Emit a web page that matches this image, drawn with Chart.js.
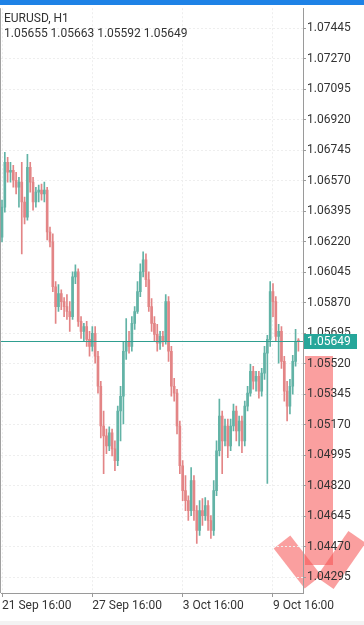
<!DOCTYPE html>
<html>
<head>
<meta charset="utf-8">
<script src="https://cdn.jsdelivr.net/npm/chart.js@4.4.0/dist/chart.umd.min.js"></script>
<style>
  html, body { margin: 0; padding: 0; background: #fff; }
  #wrap { position: relative; width: 364px; height: 625px; }
</style>
</head>
<body>
<div id="wrap"><canvas id="priceChart" width="364" height="625"></canvas></div>
<script>
// EURUSD H1 - 3h candles
const symbolTitle = 'EURUSD, H1';
const lastBarText = '1.05655 1.05663 1.05592 1.05649';

const xTickIndex = [0, 32, 64, 96];
const xTickLabels = ['21 Sep 16:00', '27 Sep 16:00', '3 Oct 16:00', '9 Oct 16:00'];

const yTickValues = [1.04295, 1.04470, 1.04645, 1.04820, 1.04995, 1.05170, 1.05345,
  1.05520, 1.05695, 1.05870, 1.06045, 1.06220, 1.06395, 1.06570, 1.06745, 1.06920,
  1.07095, 1.07270, 1.07445];

const opens = [1.06246, 1.06418, 1.06675, 1.06618, 1.06629, 1.06572, 1.06532, 1.06561, 1.06447, 1.06360,
  1.06646, 1.06561, 1.06447, 1.06504, 1.06515, 1.06493, 1.06515, 1.06275, 1.06218, 1.05961,
  1.05847, 1.05922, 1.05876, 1.05847, 1.05819, 1.05790, 1.06018, 1.06047, 1.05762, 1.05705,
  1.05733, 1.05659, 1.05619, 1.05694, 1.05562, 1.05390, 1.05162, 1.05105, 1.05048, 1.05123,
  1.05031, 1.04963, 1.05248, 1.05333, 1.05591, 1.05648, 1.05619, 1.05751, 1.05819, 1.05933,
  1.06047, 1.06115, 1.06001, 1.05847, 1.05751, 1.05688, 1.05637, 1.05676, 1.05648, 1.05876,
  1.05591, 1.05390, 1.05351, 1.05162, 1.04934, 1.04791, 1.04734, 1.04677, 1.04849, 1.04677,
  1.04563, 1.04677, 1.04648, 1.04705, 1.04620, 1.04563, 1.04791, 1.05020, 1.05219, 1.05077,
  1.05162, 1.05048, 1.05162, 1.05248, 1.05134, 1.05191, 1.05077, 1.05276, 1.05351, 1.05476,
  1.05419, 1.05447, 1.05362, 1.05465, 1.05580, 1.05659, 1.05933, 1.05876, 1.05676, 1.05705,
  1.05533, 1.05362, 1.05276, 1.05390, 1.05533, 1.05655];

const highs = [1.06458, 1.06732, 1.06703, 1.06675, 1.06658, 1.06618, 1.06589, 1.06675, 1.06475, 1.06721,
  1.06675, 1.06589, 1.06532, 1.06544, 1.06550, 1.06561, 1.06532, 1.06303, 1.06264, 1.05990,
  1.05973, 1.05944, 1.05899, 1.05916, 1.05876, 1.06047, 1.06087, 1.06064, 1.05790, 1.05751,
  1.05762, 1.05705, 1.05733, 1.05733, 1.05591, 1.05419, 1.05248, 1.05145, 1.05157, 1.05145,
  1.05077, 1.05276, 1.05390, 1.05648, 1.05779, 1.05705, 1.05790, 1.05847, 1.05990, 1.06093,
  1.06161, 1.06150, 1.06047, 1.05893, 1.05790, 1.05745, 1.05705, 1.05705, 1.05916, 1.05904,
  1.05619, 1.05436, 1.05373, 1.05191, 1.04963, 1.04877, 1.04762, 1.04923, 1.04877, 1.04705,
  1.04734, 1.04745, 1.04751, 1.04734, 1.04648, 1.04849, 1.05077, 1.05316, 1.05248, 1.05202,
  1.05202, 1.05202, 1.05288, 1.05276, 1.05219, 1.05219, 1.05305, 1.05390, 1.05516, 1.05505,
  1.05476, 1.05476, 1.05493, 1.05619, 1.05682, 1.05990, 1.05979, 1.05904, 1.05745, 1.05733,
  1.05562, 1.05419, 1.05430, 1.05568, 1.05716, 1.05663];

const lows = [1.06218, 1.06389, 1.06561, 1.06561, 1.06532, 1.06493, 1.06418, 1.06150, 1.06321, 1.06343,
  1.06504, 1.06401, 1.06418, 1.06447, 1.06458, 1.06447, 1.06229, 1.06189, 1.05933, 1.05751,
  1.05819, 1.05830, 1.05790, 1.05773, 1.05705, 1.05773, 1.05979, 1.05733, 1.05665, 1.05648,
  1.05619, 1.05562, 1.05591, 1.05522, 1.05351, 1.05094, 1.04889, 1.05003, 1.05020, 1.04991,
  1.04906, 1.04934, 1.05077, 1.05174, 1.05544, 1.05580, 1.05591, 1.05716, 1.05808, 1.05904,
  1.06018, 1.05961, 1.05819, 1.05705, 1.05648, 1.05591, 1.05602, 1.05619, 1.05631, 1.05533,
  1.05333, 1.05305, 1.05117, 1.04889, 1.04734, 1.04677, 1.04620, 1.04648, 1.04620, 1.04489,
  1.04534, 1.04591, 1.04620, 1.04563, 1.04517, 1.04534, 1.04762, 1.04991, 1.04889, 1.05048,
  1.04980, 1.05020, 1.05134, 1.05077, 1.05048, 1.05009, 1.05048, 1.05248, 1.05333, 1.05373,
  1.05362, 1.05322, 1.05333, 1.05430, 1.04832, 1.05619, 1.05790, 1.05648, 1.05522, 1.05493,
  1.05305, 1.05191, 1.05231, 1.05345, 1.05505, 1.05592];

const closes = [1.06418, 1.06675, 1.06618, 1.06629, 1.06572, 1.06532, 1.06561, 1.06447, 1.06360, 1.06646,
  1.06561, 1.06447, 1.06504, 1.06515, 1.06493, 1.06515, 1.06275, 1.06218, 1.05961, 1.05847,
  1.05922, 1.05876, 1.05847, 1.05819, 1.05790, 1.06018, 1.06047, 1.05762, 1.05705, 1.05733,
  1.05659, 1.05619, 1.05694, 1.05562, 1.05390, 1.05162, 1.05105, 1.05048, 1.05123, 1.05031,
  1.04963, 1.05248, 1.05333, 1.05591, 1.05648, 1.05619, 1.05751, 1.05819, 1.05933, 1.06047,
  1.06115, 1.06001, 1.05847, 1.05751, 1.05688, 1.05637, 1.05676, 1.05648, 1.05876, 1.05591,
  1.05390, 1.05351, 1.05162, 1.04934, 1.04791, 1.04734, 1.04677, 1.04849, 1.04677, 1.04563,
  1.04677, 1.04648, 1.04705, 1.04620, 1.04563, 1.04791, 1.05020, 1.05219, 1.05077, 1.05162,
  1.05048, 1.05162, 1.05248, 1.05134, 1.05191, 1.05077, 1.05276, 1.05351, 1.05476, 1.05419,
  1.05447, 1.05362, 1.05465, 1.05580, 1.05659, 1.05933, 1.05876, 1.05676, 1.05705, 1.05533,
  1.05362, 1.05276, 1.05390, 1.05533, 1.05648, 1.05649];

const bullColor = '#62b3a6';
const bearColor = '#e38586';
const candleColors = closes.map((c, i) => c >= opens[i] ? bullColor : bearColor);
const lastClose = closes[closes.length - 1];

const fontFamily = 'Roboto, "Noto Sans", sans-serif';

// background bits: top bar, left border, the big red arrow
const chromePlugin = {
  id: 'chrome',
  beforeDraw(chart) {
    const ctx = chart.ctx;
    const area = chart.chartArea;
    ctx.save();
    ctx.fillStyle = '#f3f3f3';
    ctx.fillRect(0, 621, chart.width, 4);

    ctx.strokeStyle = '#a0a0a0';
    ctx.lineWidth = 1;
    ctx.beginPath();
    ctx.moveTo(0.5, area.top);
    ctx.lineTo(0.5, area.bottom);
    ctx.stroke();

    // down arrow annotation
    const red = 'rgba(245, 80, 80, 0.55)';
    ctx.fillStyle = red;
    ctx.fillRect(area.right + 2, 356, 28, 209);
    ctx.strokeStyle = red;
    ctx.lineWidth = 21;
    ctx.lineCap = 'butt';
    ctx.beginPath();
    ctx.moveTo(area.right - 21, 542);
    ctx.lineTo(area.right + 10, 582);
    ctx.stroke();
    ctx.beginPath();
    ctx.moveTo(area.right + 54, 537);
    ctx.lineTo(area.right + 22, 583);
    ctx.stroke();

    ctx.fillStyle = '#1e82e6';
    ctx.fillRect(0, 0, chart.width, 5);
    ctx.restore();
  },
  afterDatasetsDraw(chart) {
    const ctx = chart.ctx;
    const area = chart.chartArea;
    const y = Math.round(chart.scales.y.getPixelForValue(lastClose)) + 0.5;
    ctx.save();
    ctx.strokeStyle = '#2f9e90';
    ctx.lineWidth = 1;
    ctx.beginPath();
    ctx.moveTo(area.left, y);
    ctx.lineTo(area.right, y);
    ctx.stroke();
    ctx.restore();
  },
  afterDraw(chart) {
    const ctx = chart.ctx;
    const area = chart.chartArea;
    const y = Math.round(chart.scales.y.getPixelForValue(lastClose));
    ctx.save();
    ctx.fillStyle = '#26a69a';
    ctx.fillRect(area.right + 1, y - 7, 53, 15);
    ctx.fillStyle = '#ffffff';
    ctx.font = '12px ' + fontFamily;
    ctx.textBaseline = 'middle';
    ctx.fillText(lastClose.toFixed(5), area.right + 4, y + 1);

    ctx.fillStyle = '#333333';
    ctx.textBaseline = 'alphabetic';
    ctx.fillText(symbolTitle, 4, 22);
    ctx.fillText(lastBarText, 4, 37);
    ctx.restore();
  }
};

const ctx = document.getElementById('priceChart').getContext('2d');
new Chart(ctx, {
  type: 'bar',
  data: {
    datasets: [
      {
        label: 'wick',
        data: lows.map((l, i) => ({ x: i, y: [l, highs[i]] })),
        backgroundColor: candleColors,
        barThickness: 1,
        borderWidth: 0,
        grouped: false,
        order: 2
      },
      {
        label: 'body',
        data: opens.map((o, i) => ({ x: i, y: [o, closes[i]] })),
        backgroundColor: candleColors,
        barThickness: 2,
        minBarLength: 1,
        borderWidth: 0,
        grouped: false,
        order: 1
      }
    ]
  },
  options: {
    responsive: false,
    animation: false,
    layout: { padding: { top: 5, left: 1, right: 0, bottom: 0 } },
    plugins: { legend: { display: false }, tooltip: { enabled: false } },
    scales: {
      x: {
        type: 'linear',
        offset: false,
        min: -0.354,
        max: 106.63,
        afterBuildTicks: (scale) => { scale.ticks = xTickIndex.map(v => ({ value: v })); },
        afterFit: (scale) => { scale.height = 32; },
        ticks: {
          autoSkip: false,
          maxRotation: 0,
          align: 'start',
          padding: 2,
          color: '#333333',
          font: { family: fontFamily, size: 12 },
          callback: (v) => xTickLabels[xTickIndex.indexOf(v)]
        },
        grid: { offset: false, color: '#eeeeee', tickColor: '#9a9a9a', tickLength: 4 },
        border: { color: '#9a9a9a', dash: [2, 2] }
      },
      y: {
        type: 'linear',
        position: 'right',
        min: 1.04204,
        max: 1.07559,
        afterBuildTicks: (scale) => { scale.ticks = yTickValues.map(v => ({ value: v })); },
        afterFit: (scale) => { scale.width = 61; },
        ticks: {
          autoSkip: false,
          padding: 1,
          color: '#333333',
          font: { family: fontFamily, size: 12 },
          callback: (v) => v.toFixed(5)
        },
        grid: { color: '#eeeeee', tickColor: '#9a9a9a', tickLength: 3 },
        border: { color: '#9a9a9a', dash: [2, 2] }
      }
    }
  },
  plugins: [chromePlugin]
});
</script>
</body>
</html>
